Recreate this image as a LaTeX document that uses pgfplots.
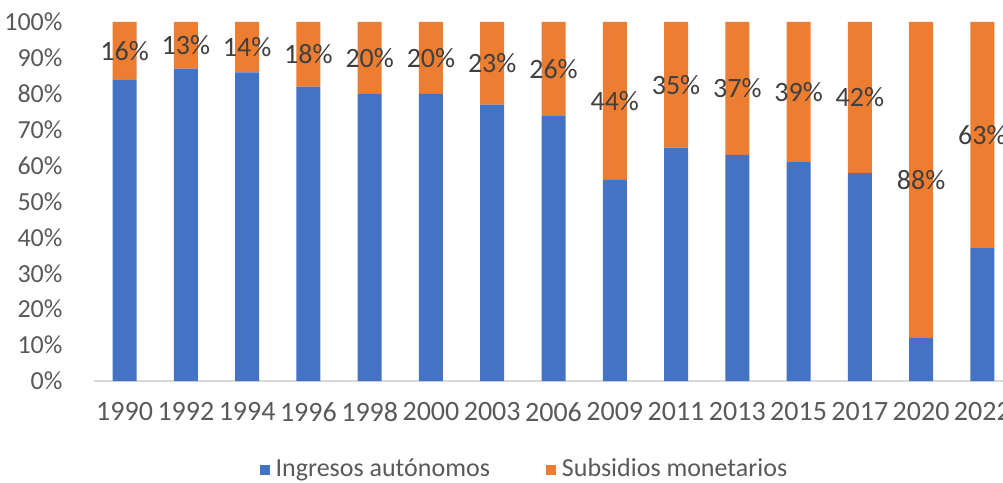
\documentclass[border=0pt]{standalone}
\usepackage{pgfplots}
\pgfplotsset{compat=1.18}
\usepackage{fontspec}
\setmainfont{Carlito}
\definecolor{cblue}{HTML}{4472C4}
\definecolor{corange}{HTML}{ED7D31}
\definecolor{ctick}{HTML}{595959}
\definecolor{clabel}{HTML}{404040}
\definecolor{caxis}{HTML}{D9D9D9}
\begin{document}
\fontsize{28pt}{32pt}\selectfont
\begin{tikzpicture}
\useasboundingbox (-94pt,-101pt) rectangle (909pt,381pt);
\begin{axis}[
  scale only axis,
  width=919pt, height=359pt,
  ybar stacked,
  bar width=24pt,
  xmin=-0.5, xmax=14.5,
  ymin=0, ymax=100,
  axis x line*=bottom,
  axis y line*=left,
  x axis line style={caxis, line width=1.2pt, -},
  y axis line style={draw=none},
  xtick={0,...,14},
  xticklabels={1990,1992,1994,1996,1998,2000,2003,2006,2009,2011,2013,2015,2017,2020,2022},
  ytick={0,10,...,100},
  yticklabels={0\%,10\%,20\%,30\%,40\%,50\%,60\%,70\%,80\%,90\%,100\%},
  major tick length=0pt,
  every tick label/.append style={text=ctick},
  every x tick label/.append style={font=\fontsize{28pt}{32pt}\selectfont, yshift=-12pt},
  every y tick label/.append style={font=\fontsize{26pt}{30pt}\selectfont, xshift=-22pt},
  /pgf/number format/assume math mode=true,
  legend style={draw=none, at={(0.4684,-0.248)}, anchor=center,
    legend columns=2, font=\fontsize{26pt}{30pt}\selectfont, text=ctick,
    /tikz/every even column/.append style={column sep=54pt}},
  legend image code/.code={\fill[#1] (0pt,-5pt) rectangle (10pt,5pt);},
  legend cell align=left,
  clip=false,
]
\addplot[fill=cblue, draw=none] coordinates {
 (0,84) (1,87) (2,86) (3,82) (4,80) (5,80) (6,77) (7,74)
 (8,56) (9,65) (10,63) (11,61) (12,58) (13,12) (14,37)};
\addplot[fill=corange, draw=none] coordinates {
 (0,16) (1,13) (2,14) (3,18) (4,20) (5,20) (6,23) (7,26)
 (8,44) (9,35) (10,37) (11,39) (12,42) (13,88) (14,63)};
\legend{\hspace{4pt}Ingresos autónomos, \hspace{4pt}Subsidios monetarios}
\end{axis}
\begin{axis}[
  scale only axis,
  width=919pt, height=359pt,
  xmin=-0.5, xmax=14.5,
  ymin=0, ymax=100,
  hide axis,
  clip=false,
]
\addplot[only marks, mark=none, nodes near coords, point meta=explicit symbolic,
  every node near coord/.append style={anchor=center, text=clabel,
    font=\fontsize{28pt}{32pt}\selectfont}]
 coordinates {
 (0,92)[16\%] (1,93.5)[13\%] (2,93)[14\%] (3,91)[18\%] (4,90)[20\%]
 (5,90)[20\%] (6,88.5)[23\%] (7,87)[26\%] (8,78)[44\%] (9,82.5)[35\%]
 (10,81.5)[37\%] (11,80.5)[39\%] (12,79)[42\%] (13,56)[88\%] (14,68.5)[63\%]};
\end{axis}
\end{tikzpicture}
\end{document}
